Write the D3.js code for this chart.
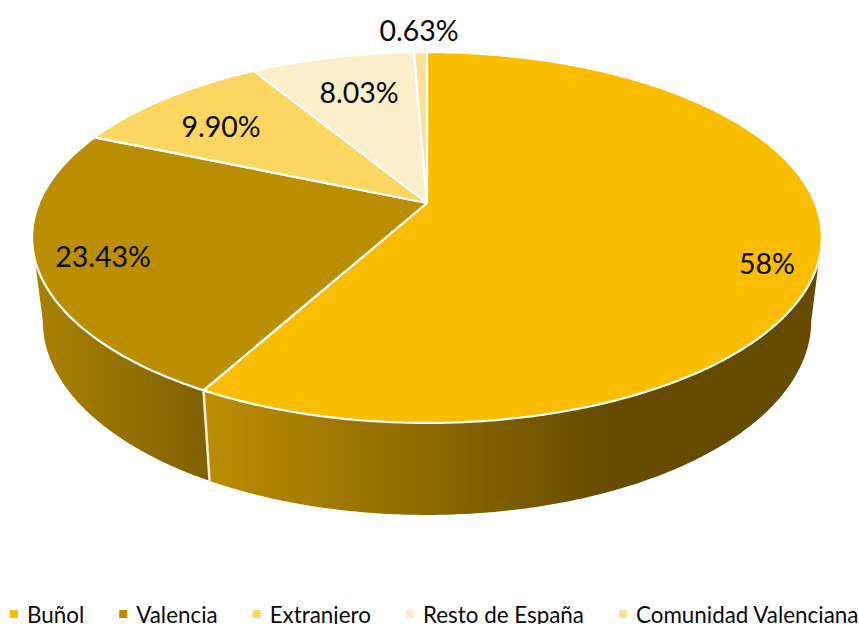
<!DOCTYPE html>
<html><head><meta charset="utf-8">
<script src="https://cdn.jsdelivr.net/npm/d3@7"></script>
<style>html,body{margin:0;padding:0;background:#fff;overflow:hidden}svg{display:block}text{font-family:Lato,"Open Sans",sans-serif;fill:#0a0a0a}</style>
</head><body><svg id="c" width="859" height="624"></svg>
<script>
const categories = ["Buñol","Valencia","Extranjero","Resto de España","Comunidad Valenciana"];
const values = [58, 23.43, 9.90, 8.03, 0.63];
const valueLabels = ["58%","23.43%","9.90%","8.03%","0.63%"];
const colors = ["#fbbd00","#bb8e00","#fbd660","#faeecb","#fbe196"];
const labelAnchors = [[767,264],[103,257],[221,127],[359,93],[419,31]];

// perspective tilt of the pie disc
const apex = {x:427, y:203}, tilt = -0.186, radX = 388, radY = 179;
const ellipseCy = 237.5, floorCy = 321, floorScaleX = 0.973, floorScaleY = 1.046;
const svg = d3.select("#c"), defs = svg.append("defs");

function rim(theta, floor){
  const u = Math.sin(theta), v = -Math.cos(theta), w = 1 + tilt*v;
  const x = apex.x + radX*u/w, y = apex.y + radY*v/w;
  if(!floor) return [x,y];
  return [apex.x + (x-apex.x)*floorScaleX, floorCy + (y-ellipseCy)*floorScaleY];
}
function arcPts(a0,a1,floor){
  const n = Math.max(2, Math.ceil((a1-a0)/0.01));
  return d3.range(n+1).map(i => rim(a0+(a1-a0)*i/n, floor));
}
const line = d3.line();
const arcs = d3.pie().sort(null)(values);

// visible wall of the disc spans the two silhouette tangent angles
const tanR = Math.acos(tilt), tanL = 2*Math.PI - tanR;
const sides = [
  {i:1, stops:["#a98000","#7f6000"], x1:40,  x2:210},
  {i:0, stops:["#bb8e00","#654b00"], x1:205, x2:610}
];
sides.forEach(s=>{
  const a = arcs[s.i], a0 = Math.max(a.startAngle,tanR), a1 = Math.min(a.endAngle,tanL);
  const id = "g"+s.i;
  const g = defs.append("linearGradient").attr("id",id).attr("gradientUnits","userSpaceOnUse")
    .attr("x1",s.x1).attr("x2",s.x2).attr("y1",0).attr("y2",0);
  g.append("stop").attr("offset",0).attr("stop-color",s.stops[0]);
  g.append("stop").attr("offset",1).attr("stop-color",s.stops[1]);
  svg.append("path")
    .attr("d", line(arcPts(a0,a1,false).concat(arcPts(a0,a1,true).reverse()))+"Z")
    .attr("fill",`url(#${id})`);
});
// seam between the two wall faces
svg.append("path")
  .attr("d", line([rim(arcs[0].endAngle,false), rim(arcs[0].endAngle,true)]))
  .attr("stroke","#f3ecd9").attr("stroke-width",2.5).attr("fill","none");

// top face
svg.selectAll("path.top").data(arcs).join("path").attr("class","top")
  .attr("d", d => line([[apex.x,apex.y]].concat(arcPts(d.startAngle,d.endAngle,false)))+"Z")
  .attr("fill",(d,i)=>colors[i]).attr("stroke","#fff").attr("stroke-width",2.2).attr("stroke-linejoin","round");

// value labels
svg.selectAll("text.val").data(valueLabels).join("text").attr("class","val")
  .attr("x",(d,i)=>labelAnchors[i][0]).attr("y",(d,i)=>labelAnchors[i][1]+10)
  .attr("text-anchor","middle").attr("font-size",28.5).text(d=>d);

// legend
let lx = 10;
categories.forEach((c,i)=>{
  svg.append("rect").attr("x",lx).attr("y",610).attr("width",8).attr("height",8).attr("fill",colors[i]);
  const t = svg.append("text").attr("x",lx+17).attr("y",622.5).attr("font-size",22.4).text(c);
  lx += 17 + t.node().getComputedTextLength() + 35;
});
</script></body></html>
